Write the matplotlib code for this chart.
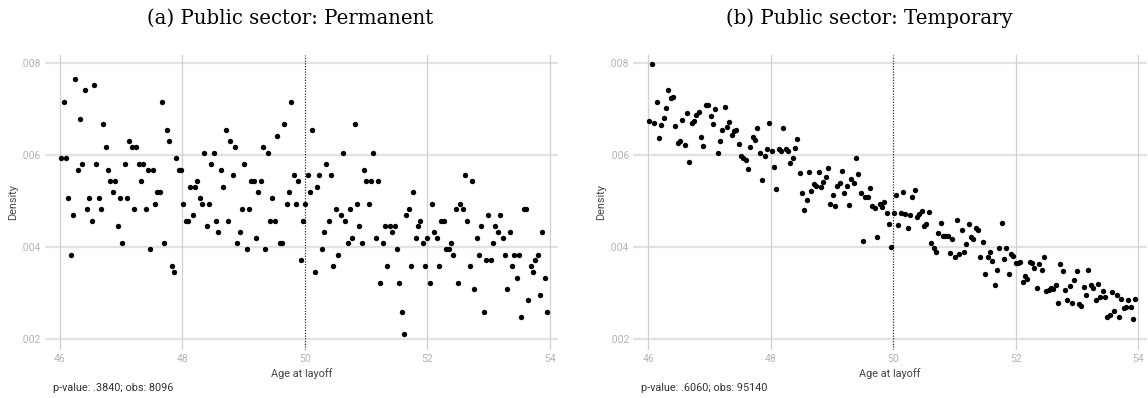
import numpy as np
import matplotlib
matplotlib.use("Agg")
import matplotlib.pyplot as plt

# ---------------- data ----------------
bin_days = 14                     # 14-day age bins
n_bins = 208
ages = 46 + (bin_days * np.arange(n_bins) + bin_days / 2) / 365.25

# densities in units of 1e-3
perm_density = [
    5.93, 7.16, 5.93, 5.06, 3.83, 4.69, 7.66, 5.68, 6.79, 5.81,
    7.41, 4.82, 5.06, 4.57, 7.53, 5.81, 5.06, 4.82, 6.67, 6.18,
    5.68, 5.43, 5.19, 5.43, 4.45, 5.06, 4.08, 5.81, 5.06, 6.30,
    6.18, 4.82, 6.18, 5.81, 5.43, 5.81, 4.82, 5.68, 3.95, 5.68,
    4.94, 5.19, 5.19, 7.16, 4.08, 6.55, 6.30, 3.58, 3.46, 5.93,
    5.68, 5.68, 4.94, 4.57, 4.57, 5.31, 4.69, 5.31, 5.43, 5.06,
    4.94, 6.05, 4.45, 4.94, 5.81, 6.05, 4.57, 4.32, 5.68, 5.31,
    6.55, 4.57, 6.30, 5.56, 6.18, 4.08, 4.32, 4.82, 5.81, 3.95,
    4.82, 5.43, 5.43, 4.20, 5.19, 5.43, 6.18, 3.95, 6.05, 4.57,
    5.06, 4.57, 6.42, 4.08, 4.08, 6.67, 4.94, 5.19, 7.16, 5.56,
    4.94, 5.43, 3.71, 4.57, 4.94, 5.56, 5.19, 6.55, 3.46, 5.31,
    5.56, 3.95, 4.32, 5.81, 4.57, 5.56, 3.58, 4.82, 3.83, 4.69,
    6.05, 4.57, 4.08, 4.82, 4.20, 6.67, 4.94, 4.45, 4.08, 5.68,
    5.43, 4.94, 5.43, 6.05, 4.20, 5.43, 3.21, 4.08, 4.45, 3.58,
    4.45, 4.32, 4.45, 3.95, 3.21, 2.59, 2.10, 4.69, 4.82, 3.58,
    5.19, 4.20, 4.45, 4.57, 4.08, 3.58, 4.20, 3.21, 4.94, 4.32,
    4.20, 3.58, 4.57, 4.57, 3.95, 3.95, 4.08, 3.83, 4.82, 3.21,
    4.94, 4.82, 5.56, 4.57, 3.58, 5.43, 3.09, 4.20, 3.83, 4.45,
    2.59, 3.71, 4.69, 3.71, 4.08, 4.45, 4.32, 4.69, 4.20, 3.83,
    3.09, 4.32, 3.58, 3.83, 3.33, 3.83, 2.47, 4.82, 4.82, 2.84,
    3.58, 3.46, 3.71, 3.83, 2.96, 4.32, 3.33, 2.59,
]

temp_density = [
    6.74, 7.99, 6.70, 7.15, 6.37, 6.65, 6.80, 7.03, 7.42, 7.24,
    7.26, 6.64, 6.26, 6.30, 6.77, 6.22, 6.91, 5.85, 6.70, 6.74,
    6.88, 6.93, 6.40, 6.19, 7.09, 7.09, 6.85, 6.69, 7.01, 6.04,
    6.30, 6.55, 7.04, 6.61, 6.73, 6.43, 6.53, 6.54, 6.24, 5.98,
    5.94, 5.89, 5.69, 6.18, 6.40, 6.33, 6.59, 6.05, 5.45, 5.98,
    6.13, 6.71, 6.10, 5.74, 5.26, 6.14, 6.10, 6.59, 6.13, 6.09,
    5.82, 5.94, 6.16, 6.35, 5.61, 5.18, 4.80, 5.03, 5.64, 5.23,
    5.37, 5.33, 5.64, 5.31, 5.41, 5.53, 5.73, 4.93, 5.13, 4.90,
    5.32, 5.40, 5.65, 5.17, 5.34, 4.92, 5.48, 5.39, 5.93, 5.60,
    5.17, 4.13, 5.10, 5.08, 5.29, 4.90, 4.86, 4.21, 4.94, 4.88,
    4.99, 4.75, 4.50, 4.00, 4.74, 5.13, 4.48, 4.74, 5.19, 4.71,
    4.42, 4.70, 5.10, 5.24, 4.65, 4.72, 4.79, 4.47, 4.51, 4.77,
    4.10, 3.97, 3.89, 4.30, 4.52, 4.24, 4.24, 4.24, 3.88, 4.17,
    3.79, 4.58, 3.84, 4.37, 3.89, 4.07, 4.50, 4.21, 4.18, 4.41,
    4.37, 3.79, 4.11, 3.42, 3.79, 3.90, 3.70, 3.18, 3.50, 3.99,
    4.52, 3.75, 3.97, 3.42, 3.85, 3.81, 3.66, 3.66, 3.68, 3.24,
    3.37, 3.30, 3.68, 3.65, 3.54, 3.12, 3.63, 3.51, 3.79, 3.05,
    3.07, 3.12, 3.08, 3.18, 2.78, 3.63, 3.47, 3.07, 2.86, 3.15,
    2.79, 3.28, 3.47, 2.76, 2.72, 3.13, 2.96, 3.50, 3.18, 3.10,
    2.86, 3.19, 2.91, 3.05, 2.91, 2.47, 2.52, 3.03, 2.61, 2.96,
    2.49, 2.87, 2.67, 2.69, 2.84, 2.69, 2.43, 2.87,
]

titles = ["(a) Public sector: Permanent", "(b) Public sector: Temporary"]
notes = ["p-value: .3840; obs: 8096", "p-value: .6060; obs: 95140"]
x_ticks = [46, 48, 50, 52, 54]
x_ticklabels = ["46", "48", "50", "52", "54"]
y_ticks = [2, 4, 6, 8]
y_ticklabels = [".002", ".004", ".006", ".008"]
cutoff = 50
xlabel = "Age at layoff"
ylabel = "Density"

# ---------------- figure ----------------
W, H = 1148, 398
fig = plt.figure(figsize=(W / 100, H / 100), dpi=100)

def px_axes(x0, y0, x1, y1):
    return fig.add_axes([x0 / W, 1 - y1 / H, (x1 - x0) / W, (y1 - y0) / H])

panels = [
    (45.0, 558.3, 290, perm_density),
    (633.3, 1146.6, 869, temp_density),
]

tick_color = "#b4b4b4"
for k, (xl, xr, tcx, dens) in enumerate(panels):
    ax = px_axes(xl, 55, xr, 350)
    ax.set_xlim(45.755, 54.136)
    ax.set_ylim(1.761, 8.181)
    for s in ax.spines.values():
        s.set_visible(False)
    ax.set_xticks(x_ticks)
    ax.set_xticklabels(x_ticklabels)
    ax.set_yticks(y_ticks)
    ax.set_yticklabels(y_ticklabels)
    ax.tick_params(length=0, labelsize=7.5, colors=tick_color, pad=3)
    for lab in ax.get_xticklabels() + ax.get_yticklabels():
        lab.set_fontfamily("Roboto")
    for yv in y_ticks:
        ax.axhline(yv, color="#e2e2e2", lw=1.6, zorder=0)
    for xv in x_ticks:
        if xv != cutoff:
            ax.axvline(xv, color="#d0d0d0", lw=0.9, zorder=0)
    ax.axvline(cutoff, color="#333333", lw=0.9, ls=(0, (1, 1.2)), zorder=1)
    ax.scatter(ages, dens, s=15, color="black", linewidths=0, zorder=3)
    ax.set_xlabel(xlabel, fontsize=7.8, color="#444444", family="Roboto", labelpad=3)
    ax.set_ylabel(ylabel, fontsize=7.8, color="#444444", family="Roboto", labelpad=2)
    fig.text(tcx / W, 1 - 18 / H, titles[k], ha="center", va="center",
             fontsize=14.2, family="DejaVu Serif", color="black")
    fig.text((xl + 8) / W, 1 - 388 / H, notes[k], ha="left", va="center",
             fontsize=7.8, family="Roboto", color="#333333")

fig.savefig("out.png", dpi=100)
